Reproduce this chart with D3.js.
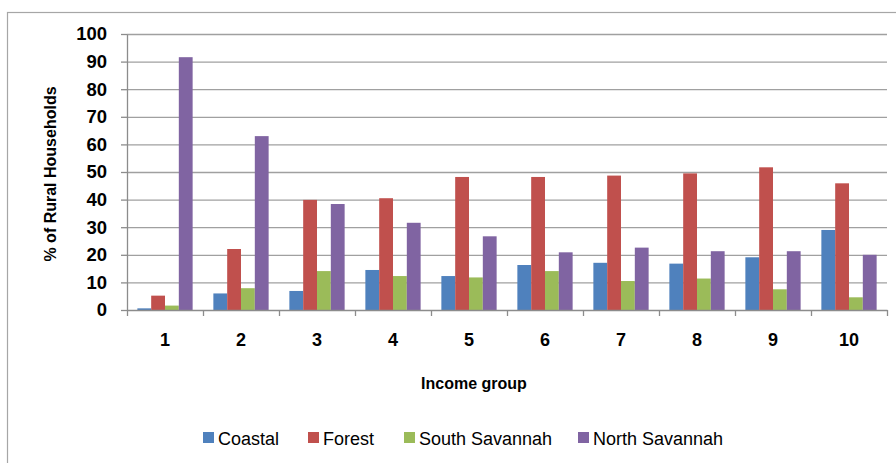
<!DOCTYPE html>
<html>
<head>
<meta charset="utf-8">
<script src="https://cdn.jsdelivr.net/npm/d3@7"></script>
<style>
  html, body { margin: 0; padding: 0; background: #fff; }
  svg { display: block; }
  text { font-family: "Liberation Sans", Arial, sans-serif; }
</style>
</head>
<body>
<svg id="chart" width="896" height="463"></svg>
<script>
const categories = ["1", "2", "3", "4", "5", "6", "7", "8", "9", "10"];
const seriesNames = ["Coastal", "Forest", "South Savannah", "North Savannah"];
const coastal = [0.6, 6.0, 6.9, 14.5, 12.3, 16.3, 17.1, 16.8, 19.1, 29.0];
const forest = [5.2, 22.1, 39.9, 40.5, 48.2, 48.2, 48.7, 49.5, 51.7, 45.9];
const southSavannah = [1.6, 7.9, 14.1, 12.3, 11.8, 14.1, 10.5, 11.4, 7.5, 4.6];
const northSavannah = [91.6, 63.0, 38.4, 31.6, 26.7, 20.9, 22.6, 21.3, 21.3, 20.0];
const seriesColors = ["#4F81BD", "#C0504D", "#9BBB59", "#8064A2"];
const yTicks = [0, 10, 20, 30, 40, 50, 60, 70, 80, 90, 100];
const yTitle = "% of Rural Households";
const xTitle = "Income group";

(function () {
const seriesValues = [coastal, forest, southSavannah, northSavannah];
const svg = d3.select("#chart");

// chart border (extends beyond the frame)
svg.append("rect")
  .attr("x", 7.5).attr("y", 12.5)
  .attr("width", 1000).attr("height", 1000)
  .attr("fill", "none").attr("stroke", "#a6a6a6").attr("stroke-width", 1.2);

const pl = 127, pr = 887, pt = 34, pb = 310;

const x = d3.scaleBand().domain(categories).range([pl, pr])
  .paddingInner(1.5 / 5.5).paddingOuter(0.75 / 5.5);
const xs = d3.scaleBand().domain(seriesNames).range([0, x.bandwidth()]);
const y = d3.scaleLinear().domain([0, 100]).range([pb, pt]);
const xb = d3.scaleLinear().domain([0, categories.length]).range([pl, pr]);

// gridlines
const grid = svg.append("g").attr("transform", `translate(${pl},0)`)
  .call(d3.axisLeft(y).tickValues(yTicks.filter(d => d > 0)).tickSize(-(pr - pl)).tickFormat(""));
grid.select(".domain").remove();
grid.selectAll("line").attr("stroke", "#a0a0a0").attr("stroke-width", 1.3);

// y axis
const ya = svg.append("g").attr("transform", `translate(${pl},0)`)
  .call(d3.axisLeft(y).tickValues(yTicks).tickSize(6).tickPadding(14).tickSizeOuter(0));
ya.select(".domain").attr("stroke", "#8c8c8c").attr("stroke-width", 1.3);
ya.selectAll("line").attr("stroke", "#8c8c8c").attr("stroke-width", 1.3);
ya.selectAll("text").attr("font-size", 18.5).attr("font-weight", "bold").attr("fill", "#000")
  .attr("font-family", "'Liberation Sans', Arial, sans-serif");

// bars
const groups = svg.append("g").selectAll("g").data(categories).join("g")
  .attr("transform", d => `translate(${x(d)},0)`);
groups.selectAll("rect")
  .data((c, i) => seriesNames.map((s, k) => ({ s, v: seriesValues[k][i], k })))
  .join("rect")
  .attr("x", d => xs(d.s))
  .attr("width", xs.bandwidth())
  .attr("y", d => y(d.v))
  .attr("height", d => y(0) - y(d.v))
  .attr("fill", d => seriesColors[d.k]);

// x axis line with boundary ticks
const xa = svg.append("g").attr("transform", `translate(0,${pb})`)
  .call(d3.axisBottom(xb).ticks(categories.length).tickSize(6).tickFormat("").tickSizeOuter(0));
xa.select(".domain").attr("stroke", "#8c8c8c").attr("stroke-width", 1.3);
xa.selectAll("line").attr("stroke", "#8c8c8c").attr("stroke-width", 1.3);

// x labels
const xl = svg.append("g").attr("transform", `translate(0,${pb})`)
  .call(d3.axisBottom(x).tickSize(0).tickPadding(23));
xl.select(".domain").remove();
xl.selectAll("text").attr("font-size", 18).attr("font-weight", "bold").attr("fill", "#000")
  .attr("font-family", "'Liberation Sans', Arial, sans-serif");

// axis titles
svg.append("text")
  .attr("transform", `translate(56,${(pt + pb) / 2 + 2}) rotate(-90)`)
  .attr("text-anchor", "middle").attr("font-size", 16).attr("font-weight", "bold")
  .text(yTitle);
svg.append("text")
  .attr("x", 474).attr("y", 389)
  .attr("text-anchor", "middle").attr("font-size", 16).attr("font-weight", "bold")
  .text(xTitle);

// legend
const legendX = [203, 308, 404, 578];
const lg = svg.append("g").selectAll("g").data(seriesNames).join("g")
  .attr("transform", (d, i) => `translate(${legendX[i]},438)`);
lg.append("rect").attr("x", 0).attr("y", -6).attr("width", 11).attr("height", 11)
  .attr("fill", (d, i) => seriesColors[i]);
lg.append("text").attr("x", 15).attr("y", 6.5).attr("font-size", 18).attr("fill", "#000")
  .text(d => d);
})();
</script>
</body>
</html>
